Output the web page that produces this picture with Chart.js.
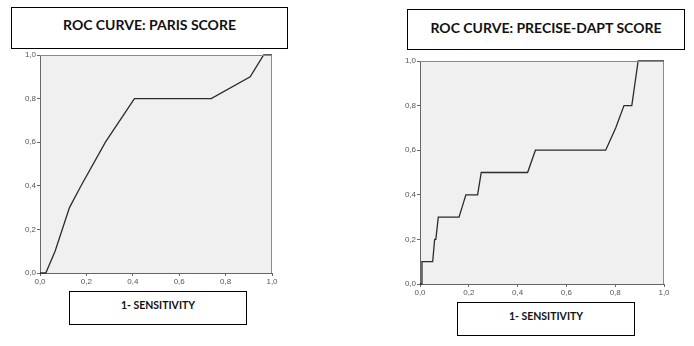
<!DOCTYPE html>
<html>
<head>
<meta charset="utf-8">
<script src="https://cdn.jsdelivr.net/npm/chart.js@4"></script>
<style>
  body { margin: 0; background: #fff; width: 694px; height: 346px; position: relative; overflow: hidden; }
  canvas { position: absolute; }
  .box {
    position: absolute; box-sizing: border-box; border: 1px solid #000; background: #fff;
    font-family: Lato, "Open Sans", sans-serif; font-weight: bold; color: #111; text-align: center;
  }
  .title__box { font-size: 14px; }
  .label__box { font-size: 10.5px; }
</style>
</head>
<body>
<canvas id="paris-chart" width="300" height="250" style="left:0px; top:45px;"></canvas>
<canvas id="precise-chart" width="300" height="260" style="left:380px; top:45px;"></canvas>

<div class="box title__box" style="left:11px; top:7px; width:277px; height:42px; line-height:34px;">ROC CURVE: PARIS SCORE</div>
<div class="box title__box" style="left:407px; top:9px; width:278px; height:41px; line-height:35px;">ROC CURVE: PRECISE-DAPT SCORE</div>
<div class="box label__box" style="left:69px; top:291px; width:178px; height:34px; line-height:26px;">1- SENSITIVITY</div>
<div class="box label__box" style="left:457px; top:302px; width:178px; height:34px; line-height:27px;">1- SENSITIVITY</div>

<script>
  // axis ticks
  const tickValues = [0, 0.2, 0.4, 0.6, 0.8, 1.0];

  // PARIS score curve
  const parisX = [0, 0.025, 0.065, 0.127, 0.177, 0.282, 0.407, 0.738, 0.906, 0.964, 1.0];
  const parisY = [0, 0, 0.1, 0.3, 0.4, 0.6, 0.8, 0.8, 0.9, 1.0, 1.0];

  // PRECISE-DAPT score curve
  const preciseX = [0, 0.008, 0.008, 0.052, 0.06, 0.065, 0.075, 0.16, 0.188, 0.236, 0.251, 0.441, 0.473, 0.761, 0.802, 0.836, 0.868, 0.894, 1.0];
  const preciseY = [0, 0, 0.1, 0.1, 0.2, 0.2, 0.3, 0.3, 0.4, 0.4, 0.5, 0.5, 0.6, 0.6, 0.7, 0.8, 0.8, 1.0, 1.0];

  const plotBg = {
    id: "plotBg",
    beforeDraw(chart) {
      const { ctx, chartArea: a } = chart;
      ctx.save();
      ctx.fillStyle = "#f0f0f0";
      ctx.fillRect(a.left, a.top, a.width, a.height);
      ctx.restore();
    },
    afterDraw(chart) {
      const { ctx, chartArea: a } = chart;
      ctx.save();
      ctx.strokeStyle = "#8a8a8a";
      ctx.lineWidth = 1;
      ctx.beginPath();
      ctx.moveTo(a.left, a.top + 0.5);
      ctx.lineTo(a.right - 0.5, a.top + 0.5);
      ctx.lineTo(a.right - 0.5, a.bottom);
      ctx.stroke();
      ctx.restore();
    },
  };

  function makeAxis(axisWidth, isX) {
    return {
      type: "linear",
      min: 0,
      max: 1,
      afterBuildTicks: (scale) => {
        scale.ticks = tickValues.map((v) => ({ value: v }));
      },
      afterFit: (scale) => {
        if (isX) scale.height = axisWidth;
        else scale.width = axisWidth;
      },
      border: { color: "#666", width: 1 },
      grid: { drawOnChartArea: false, drawTicks: true, tickLength: 3, color: "#666" },
      ticks: {
        color: "#555",
        padding: 1,
        font: { family: "'Liberation Sans', Arial", size: 8 },
        callback: (v) => Number(v).toFixed(1).replace(".", ","),
      },
    };
  }

  function renderRoc(id, xs, ys, pad, xAxisHeight) {
    const ctx = document.getElementById(id).getContext("2d");
    return new Chart(ctx, {
      type: "scatter",
      data: {
        datasets: [
          {
            data: xs.map((x, i) => ({ x: x, y: ys[i] })),
            showLine: true,
            borderColor: "#2b2b2b",
            borderWidth: 1.3,
            pointRadius: 0,
            tension: 0,
            clip: 3,
          },
        ],
      },
      options: {
        responsive: false,
        animation: false,
        devicePixelRatio: 1,
        layout: { padding: pad },
        scales: {
          x: makeAxis(xAxisHeight, true),
          y: makeAxis(40, false),
        },
        plugins: {
          legend: { display: false },
          title: { display: false },
          tooltip: { enabled: false },
        },
      },
      plugins: [plotBg],
    });
  }

  renderRoc("paris-chart", parisX, parisY, { left: 0, right: 28, top: 10, bottom: 0 }, 22);
  renderRoc("precise-chart", preciseX, preciseY, { left: 0, right: 16, top: 16, bottom: 0 }, 21);
</script>
</body>
</html>
